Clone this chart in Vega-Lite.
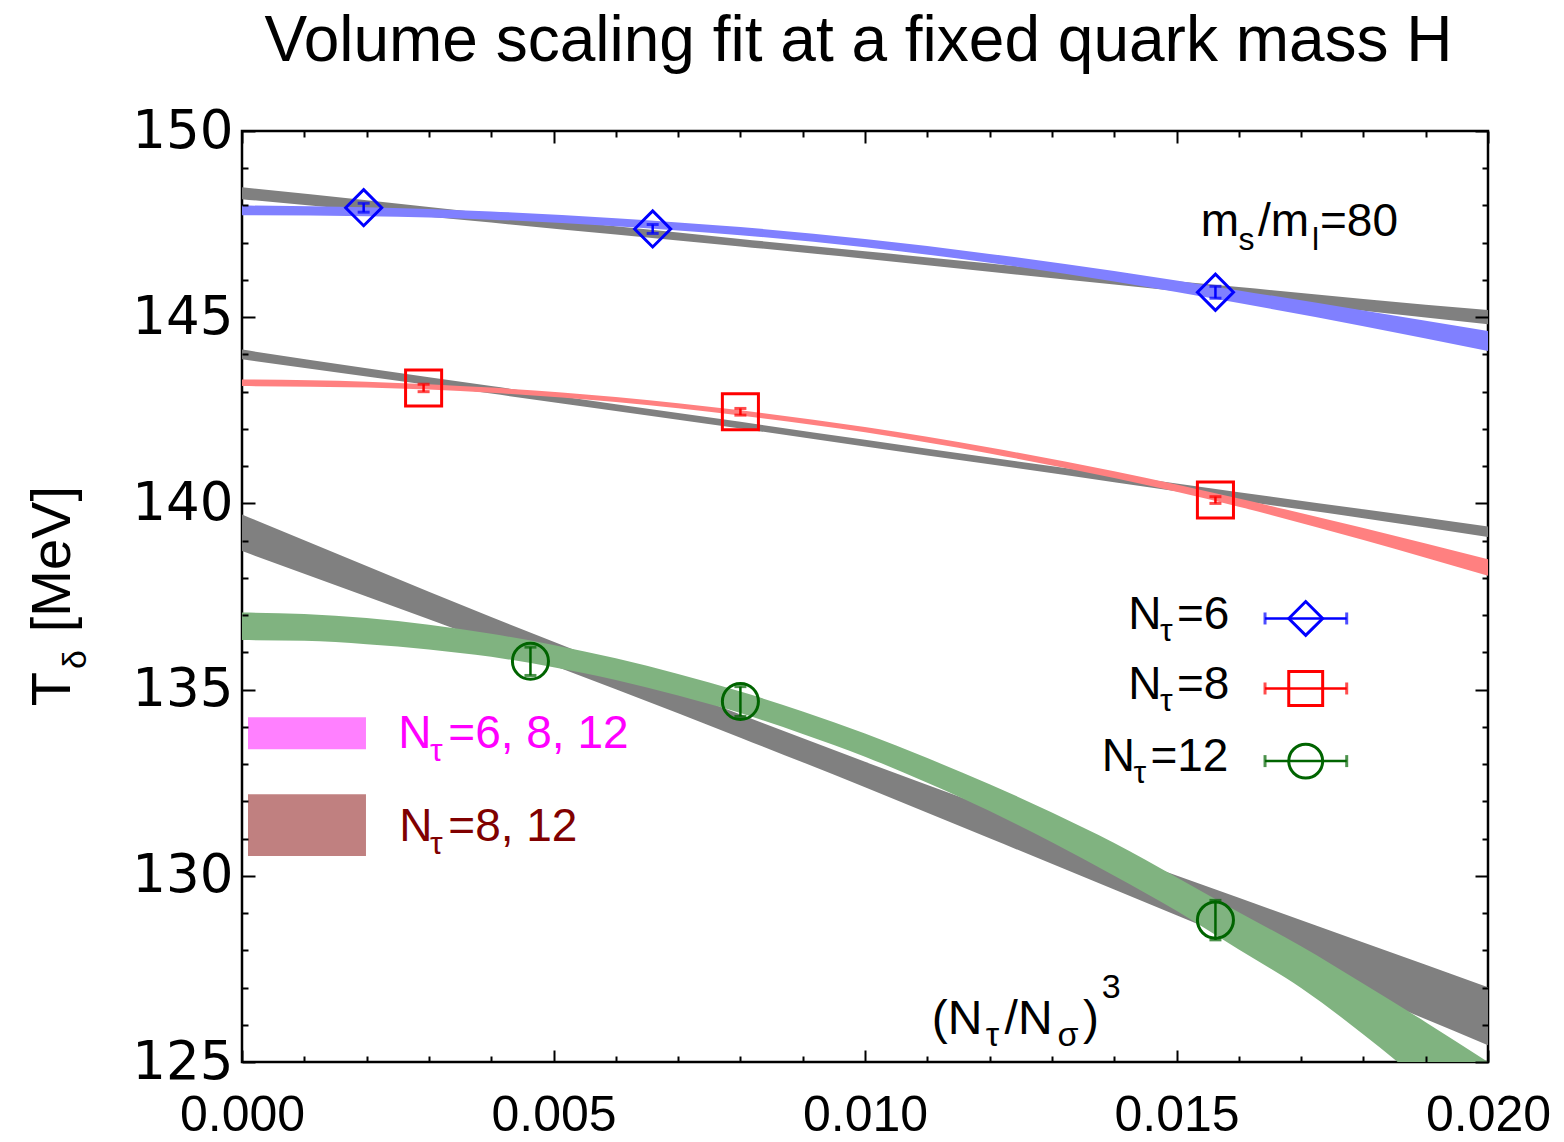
{
  "$schema": "https://vega.github.io/schema/vega-lite/v6.json",
  "width": 1246,
  "height": 931,
  "autosize": {"type": "none"},
  "padding": {"left": 242, "top": 131, "right": 76, "bottom": 80},
  "background": "white",
  "config": {"view": {"stroke": "black", "strokeWidth": 2.5}, "font": "Liberation Sans"},
  "datasets": {
    "bands": [
      {"band": "g6", "x": 0, "lo": 148.17, "hi": 148.49},
      {"band": "g6", "x": 0.002, "lo": 147.86, "hi": 148.14},
      {"band": "g6", "x": 0.004, "lo": 147.54, "hi": 147.78},
      {"band": "g6", "x": 0.006, "lo": 147.22, "hi": 147.44},
      {"band": "g6", "x": 0.008, "lo": 146.90, "hi": 147.10},
      {"band": "g6", "x": 0.010, "lo": 146.57, "hi": 146.77},
      {"band": "g6", "x": 0.012, "lo": 146.22, "hi": 146.44},
      {"band": "g6", "x": 0.014, "lo": 145.88, "hi": 146.12},
      {"band": "g6", "x": 0.016, "lo": 145.53, "hi": 145.81},
      {"band": "g6", "x": 0.018, "lo": 145.17, "hi": 145.49},
      {"band": "g6", "x": 0.020, "lo": 144.81, "hi": 145.19},
      {"band": "g8", "x": 0, "lo": 143.87, "hi": 144.13},
      {"band": "g8", "x": 0.002, "lo": 143.41, "hi": 143.63},
      {"band": "g8", "x": 0.004, "lo": 142.95, "hi": 143.15},
      {"band": "g8", "x": 0.006, "lo": 142.48, "hi": 142.66},
      {"band": "g8", "x": 0.008, "lo": 142.01, "hi": 142.19},
      {"band": "g8", "x": 0.010, "lo": 141.53, "hi": 141.71},
      {"band": "g8", "x": 0.012, "lo": 141.05, "hi": 141.23},
      {"band": "g8", "x": 0.014, "lo": 140.57, "hi": 140.77},
      {"band": "g8", "x": 0.016, "lo": 140.08, "hi": 140.30},
      {"band": "g8", "x": 0.018, "lo": 139.60, "hi": 139.84},
      {"band": "g8", "x": 0.020, "lo": 139.10, "hi": 139.38},
      {"band": "g12", "x": 0, "lo": 138.72, "hi": 139.70},
      {"band": "g12", "x": 0.002, "lo": 137.50, "hi": 138.32},
      {"band": "g12", "x": 0.004, "lo": 136.27, "hi": 136.95},
      {"band": "g12", "x": 0.006, "lo": 135.01, "hi": 135.63},
      {"band": "g12", "x": 0.008, "lo": 133.71, "hi": 134.33},
      {"band": "g12", "x": 0.010, "lo": 132.38, "hi": 133.06},
      {"band": "g12", "x": 0.012, "lo": 131.01, "hi": 131.83},
      {"band": "g12", "x": 0.014, "lo": 129.63, "hi": 130.61},
      {"band": "g12", "x": 0.016, "lo": 128.25, "hi": 129.41},
      {"band": "g12", "x": 0.018, "lo": 126.85, "hi": 128.21},
      {"band": "g12", "x": 0.020, "lo": 125.45, "hi": 127.01}
    ],
    "fits": [
      {"fit": "6", "x": 0, "lo": 147.74, "hi": 148.00},
      {"fit": "6", "x": 0.002, "lo": 147.71, "hi": 147.95},
      {"fit": "6", "x": 0.004, "lo": 147.62, "hi": 147.84},
      {"fit": "6", "x": 0.006, "lo": 147.44, "hi": 147.66},
      {"fit": "6", "x": 0.008, "lo": 147.20, "hi": 147.42},
      {"fit": "6", "x": 0.010, "lo": 146.88, "hi": 147.10},
      {"fit": "6", "x": 0.012, "lo": 146.46, "hi": 146.70},
      {"fit": "6", "x": 0.014, "lo": 145.96, "hi": 146.24},
      {"fit": "6", "x": 0.016, "lo": 145.38, "hi": 145.72},
      {"fit": "6", "x": 0.018, "lo": 144.76, "hi": 145.18},
      {"fit": "6", "x": 0.020, "lo": 144.09, "hi": 144.63},
      {"fit": "8", "x": 0, "lo": 143.15, "hi": 143.33},
      {"fit": "8", "x": 0.002, "lo": 143.11, "hi": 143.27},
      {"fit": "8", "x": 0.004, "lo": 142.97, "hi": 143.11},
      {"fit": "8", "x": 0.006, "lo": 142.72, "hi": 142.86},
      {"fit": "8", "x": 0.008, "lo": 142.36, "hi": 142.50},
      {"fit": "8", "x": 0.010, "lo": 141.91, "hi": 142.05},
      {"fit": "8", "x": 0.012, "lo": 141.34, "hi": 141.50},
      {"fit": "8", "x": 0.014, "lo": 140.68, "hi": 140.86},
      {"fit": "8", "x": 0.016, "lo": 139.91, "hi": 140.13},
      {"fit": "8", "x": 0.018, "lo": 139.02, "hi": 139.34},
      {"fit": "8", "x": 0.020, "lo": 138.06, "hi": 138.50},
      {"fit": "12", "x": 0, "lo": 136.33, "hi": 137.07},
      {"fit": "12", "x": 0.001, "lo": 136.31, "hi": 137.03},
      {"fit": "12", "x": 0.002, "lo": 136.22, "hi": 136.92},
      {"fit": "12", "x": 0.003, "lo": 136.08, "hi": 136.74},
      {"fit": "12", "x": 0.004, "lo": 135.88, "hi": 136.50},
      {"fit": "12", "x": 0.005, "lo": 135.60, "hi": 136.20},
      {"fit": "12", "x": 0.006, "lo": 135.26, "hi": 135.84},
      {"fit": "12", "x": 0.007, "lo": 134.84, "hi": 135.42},
      {"fit": "12", "x": 0.008, "lo": 134.37, "hi": 134.95},
      {"fit": "12", "x": 0.009, "lo": 133.81, "hi": 134.41},
      {"fit": "12", "x": 0.010, "lo": 133.20, "hi": 133.82},
      {"fit": "12", "x": 0.011, "lo": 132.50, "hi": 133.16},
      {"fit": "12", "x": 0.012, "lo": 131.74, "hi": 132.46},
      {"fit": "12", "x": 0.013, "lo": 130.90, "hi": 131.70},
      {"fit": "12", "x": 0.014, "lo": 130.00, "hi": 130.88},
      {"fit": "12", "x": 0.015, "lo": 129.06, "hi": 129.96},
      {"fit": "12", "x": 0.016, "lo": 128.02, "hi": 129.02},
      {"fit": "12", "x": 0.017, "lo": 126.99, "hi": 128.11},
      {"fit": "12", "x": 0.018, "lo": 125.74, "hi": 127.10},
      {"fit": "12", "x": 0.019, "lo": 124.37, "hi": 126.07},
      {"fit": "12", "x": 0.020, "lo": 122.90, "hi": 125.00}
    ],
    "points": [
      {"nt": "6", "x": 0.001953, "t": 147.94, "lo": 147.82, "hi": 148.06},
      {"nt": "6", "x": 0.006592, "t": 147.37, "lo": 147.25, "hi": 147.49},
      {"nt": "6", "x": 0.015625, "t": 145.67, "lo": 145.51, "hi": 145.83},
      {"nt": "8", "x": 0.002915, "t": 143.10, "lo": 143.00, "hi": 143.20},
      {"nt": "8", "x": 0.008, "t": 142.46, "lo": 142.37, "hi": 142.55},
      {"nt": "8", "x": 0.015625, "t": 140.09, "lo": 140.00, "hi": 140.18},
      {"nt": "12", "x": 0.00463, "t": 135.76, "lo": 135.38, "hi": 136.14},
      {"nt": "12", "x": 0.008, "t": 134.68, "lo": 134.28, "hi": 135.08},
      {"nt": "12", "x": 0.015625, "t": 128.81, "lo": 128.28, "hi": 129.34}
    ],
    "key": [
      {"nt": "6", "x": 0.017074, "x1": 0.016421, "x2": 0.017732, "y": 136.91},
      {"nt": "8", "x": 0.017074, "x1": 0.016421, "x2": 0.017732, "y": 135.03},
      {"nt": "12", "x": 0.017074, "x1": 0.016421, "x2": 0.017732, "y": 133.08}
    ],
    "combo": [
      {"c": "6, 8, 12", "x": 0.0000963, "x2": 0.00199, "lo": 133.40, "hi": 134.26},
      {"c": "8, 12", "x": 0.0000963, "x2": 0.00199, "lo": 130.53, "hi": 132.19}
    ],
    "texts": [
      {"role": "title", "t": "Volume scaling fit at a fixed quark mass H", "x": 0.009896, "y": 151.87},
      {"role": "lab", "t": "N", "x": 0.014226, "y": 136.62},
      {"role": "labsub", "t": "τ", "x": 0.014735, "y": 136.30},
      {"role": "lab", "t": "=6", "x": 0.015008, "y": 136.62},
      {"role": "lab", "t": "N", "x": 0.014226, "y": 134.74},
      {"role": "labsub", "t": "τ", "x": 0.014735, "y": 134.42},
      {"role": "lab", "t": "=8", "x": 0.015008, "y": 134.74},
      {"role": "lab", "t": "N", "x": 0.013799, "y": 132.81},
      {"role": "labsub", "t": "τ", "x": 0.014308, "y": 132.49},
      {"role": "lab", "t": "=12", "x": 0.014581, "y": 132.81},
      {"role": "lab", "t": "m", "x": 0.015390, "y": 147.19},
      {"role": "labsub", "t": "s", "x": 0.015995, "y": 146.80},
      {"role": "lab", "t": "/m", "x": 0.016308, "y": 147.19},
      {"role": "labsub", "t": "l", "x": 0.017175, "y": 146.80},
      {"role": "lab", "t": "=80", "x": 0.017303, "y": 147.19},
      {"role": "big", "t": "(N", "x": 0.011072, "y": 125.74},
      {"role": "bigsub", "t": "τ", "x": 0.011940, "y": 125.42},
      {"role": "big", "t": "/N", "x": 0.012240, "y": 125.74},
      {"role": "bigsub", "t": "σ", "x": 0.013090, "y": 125.42},
      {"role": "big", "t": ")", "x": 0.013500, "y": 125.74},
      {"role": "bigsub", "t": "3", "x": 0.013800, "y": 126.73},
      {"role": "c1", "t": "N", "x": 0.002509, "y": 133.44},
      {"role": "c1sub", "t": "τ", "x": 0.003018, "y": 133.08},
      {"role": "c1", "t": "=6, 8, 12", "x": 0.003311, "y": 133.44},
      {"role": "c2", "t": "N", "x": 0.002525, "y": 130.93},
      {"role": "c2sub", "t": "τ", "x": 0.003018, "y": 130.58},
      {"role": "c2", "t": "=8, 12", "x": 0.003311, "y": 130.93},
      {"role": "yt", "t": "T", "x": -0.002761, "y": 134.55},
      {"role": "ytsub", "t": "δ", "x": -0.0025, "y": 135.55},
      {"role": "yt", "t": "[MeV]", "x": -0.002761, "y": 136.54}
    ]
  },
  "resolve": {"axis": {"x": "independent", "y": "independent"}, "scale": {"color": "independent", "stroke": "independent"}},
  "layer": [
    {
      "data": {"name": "bands"},
      "mark": {"type": "area", "color": "#808080", "interpolate": "monotone", "clip": true, "opacity": 1},
      "encoding": {
        "detail": {"field": "band"},
        "x": {"field": "x", "type": "quantitative", "scale": {"domain": [0, 0.02], "nice": false, "zero": false},
          "axis": {"orient": "bottom", "values": [0, 0.005, 0.01, 0.015, 0.02], "format": ".3f", "tickSize": -12, "tickWidth": 2, "tickColor": "black", "domain": false, "grid": false, "labelFontSize": 50, "labelFont": "Liberation Sans", "labelColor": "black", "labelPadding": 80, "labelBaseline": "alphabetic", "labelFlush": false, "labelOverlap": false, "labelBound": false, "title": null, "zindex": 2}},
        "y": {"field": "lo", "type": "quantitative", "scale": {"domain": [125, 150], "nice": false, "zero": false},
          "axis": {"orient": "left", "values": [125, 130, 135, 140, 145, 150], "format": "d", "tickSize": -13, "tickWidth": 2, "tickColor": "black", "domain": false, "grid": false, "labelFontSize": 53, "labelFont": "DejaVu Sans", "labelColor": "black", "labelPadding": 22, "labelFlush": false, "labelOverlap": false, "labelBound": false, "title": null, "zindex": 2}},
        "y2": {"field": "hi"}
      }
    },
    {
      "data": {"name": "fits"},
      "mark": {"type": "area", "interpolate": "monotone", "clip": true, "opacity": 1},
      "encoding": {
        "color": {"field": "fit", "type": "nominal", "scale": {"domain": ["6", "8", "12"], "range": ["#8080ff", "#ff8080", "#80b380"]}, "legend": null},
        "x": {"field": "x", "type": "quantitative",
          "axis": {"orient": "top", "values": [0, 0.005, 0.01, 0.015, 0.02], "tickSize": -12, "tickWidth": 2, "tickColor": "black", "domain": false, "grid": false, "labels": false, "title": null, "zindex": 2}},
        "y": {"field": "lo", "type": "quantitative",
          "axis": {"orient": "right", "values": [125, 130, 135, 140, 145, 150], "tickSize": -13, "tickWidth": 2, "tickColor": "black", "domain": false, "grid": false, "labels": false, "title": null, "zindex": 2}},
        "y2": {"field": "hi"}
      }
    },
    {
      "data": {"name": "combo"},
      "mark": {"type": "rect"},
      "encoding": {
        "color": {"field": "c", "type": "nominal", "scale": {"domain": ["6, 8, 12", "8, 12"], "range": ["#ff80ff", "#c08080"]}, "legend": null},
        "x": {"field": "x", "type": "quantitative",
          "axis": {"orient": "bottom", "values": [0.001, 0.002, 0.003, 0.004, 0.006, 0.007, 0.008, 0.009, 0.011, 0.012, 0.013, 0.014, 0.016, 0.017, 0.018, 0.019], "tickSize": -6, "tickWidth": 2, "tickColor": "black", "domain": false, "grid": false, "labels": false, "title": null, "zindex": 2}},
        "x2": {"field": "x2"},
        "y": {"field": "lo", "type": "quantitative",
          "axis": {"orient": "left", "values": [126, 127, 128, 129, 131, 132, 133, 134, 136, 137, 138, 139, 141, 142, 143, 144, 146, 147, 148, 149], "tickSize": -6, "tickWidth": 2, "tickColor": "black", "domain": false, "grid": false, "labels": false, "title": null, "zindex": 2}},
        "y2": {"field": "hi"}
      }
    },
    {
      "data": {"name": "points"},
      "mark": {"type": "rule", "strokeWidth": 2.5},
      "encoding": {
        "color": {"field": "nt", "type": "nominal", "scale": {"domain": ["6", "8", "12"], "range": ["#0000ff", "#ff0000", "#006400"]}, "legend": null},
        "x": {"field": "x", "type": "quantitative",
          "axis": {"orient": "top", "values": [0.001, 0.002, 0.003, 0.004, 0.006, 0.007, 0.008, 0.009, 0.011, 0.012, 0.013, 0.014, 0.016, 0.017, 0.018, 0.019], "tickSize": -6, "tickWidth": 2, "tickColor": "black", "domain": false, "grid": false, "labels": false, "title": null, "zindex": 2}},
        "y": {"field": "lo", "type": "quantitative",
          "axis": {"orient": "right", "values": [126, 127, 128, 129, 131, 132, 133, 134, 136, 137, 138, 139, 141, 142, 143, 144, 146, 147, 148, 149], "tickSize": -6, "tickWidth": 2, "tickColor": "black", "domain": false, "grid": false, "labels": false, "title": null, "zindex": 2}},
        "y2": {"field": "hi"}
      }
    },
    {
      "data": {"name": "points"},
      "mark": {"type": "tick", "orient": "horizontal", "size": 12, "thickness": 3},
      "encoding": {
        "color": {"field": "nt", "type": "nominal", "scale": {"domain": ["6", "8", "12"], "range": ["#0000ff", "#ff0000", "#006400"]}, "legend": null},
        "x": {"field": "x", "type": "quantitative", "axis": null},
        "y": {"field": "lo", "type": "quantitative", "axis": null}
      }
    },
    {
      "data": {"name": "points"},
      "mark": {"type": "tick", "orient": "horizontal", "size": 12, "thickness": 3},
      "encoding": {
        "color": {"field": "nt", "type": "nominal", "scale": {"domain": ["6", "8", "12"], "range": ["#0000ff", "#ff0000", "#006400"]}, "legend": null},
        "x": {"field": "x", "type": "quantitative", "axis": null},
        "y": {"field": "hi", "type": "quantitative", "axis": null}
      }
    },
    {
      "data": {"name": "points"},
      "mark": {"type": "point", "filled": false, "strokeWidth": 3, "size": 1300, "opacity": 1},
      "encoding": {
        "color": {"field": "nt", "type": "nominal", "scale": {"domain": ["6", "8", "12"], "range": ["#0000ff", "#ff0000", "#006400"]}, "legend": null},
        "shape": {"field": "nt", "type": "nominal", "scale": {"domain": ["6", "8", "12"], "range": ["diamond", "square", "circle"]}, "legend": null},
        "x": {"field": "x", "type": "quantitative", "axis": null},
        "y": {"field": "t", "type": "quantitative", "axis": null}
      }
    },
    {
      "data": {"name": "key"},
      "mark": {"type": "rule", "strokeWidth": 2.5},
      "encoding": {
        "color": {"field": "nt", "type": "nominal", "scale": {"domain": ["6", "8", "12"], "range": ["#0000ff", "#ff0000", "#006400"]}, "legend": null},
        "x": {"field": "x1", "type": "quantitative", "axis": null},
        "x2": {"field": "x2"},
        "y": {"field": "y", "type": "quantitative", "axis": null}
      }
    },
    {
      "data": {"name": "key"},
      "mark": {"type": "tick", "orient": "vertical", "size": 12, "thickness": 3},
      "encoding": {
        "color": {"field": "nt", "type": "nominal", "scale": {"domain": ["6", "8", "12"], "range": ["#0000ff", "#ff0000", "#006400"]}, "legend": null},
        "x": {"field": "x1", "type": "quantitative", "axis": null},
        "y": {"field": "y", "type": "quantitative", "axis": null}
      }
    },
    {
      "data": {"name": "key"},
      "mark": {"type": "tick", "orient": "vertical", "size": 12, "thickness": 3},
      "encoding": {
        "color": {"field": "nt", "type": "nominal", "scale": {"domain": ["6", "8", "12"], "range": ["#0000ff", "#ff0000", "#006400"]}, "legend": null},
        "x": {"field": "x2", "type": "quantitative", "axis": null},
        "y": {"field": "y", "type": "quantitative", "axis": null}
      }
    },
    {
      "data": {"name": "key"},
      "mark": {"type": "point", "filled": false, "strokeWidth": 3, "size": 1150, "opacity": 1},
      "encoding": {
        "color": {"field": "nt", "type": "nominal", "scale": {"domain": ["6", "8", "12"], "range": ["#0000ff", "#ff0000", "#006400"]}, "legend": null},
        "shape": {"field": "nt", "type": "nominal", "legend": null},
        "x": {"field": "x", "type": "quantitative", "axis": null},
        "y": {"field": "y", "type": "quantitative", "axis": null}
      }
    },
    {
      "data": {"name": "texts"},
      "transform": [{"filter": "datum.role === 'title'"}],
      "mark": {"type": "text", "align": "center", "baseline": "alphabetic", "fontSize": 64, "font": "Liberation Sans", "color": "black"},
      "encoding": {
        "x": {"field": "x", "type": "quantitative", "axis": null},
        "y": {"field": "y", "type": "quantitative", "axis": null},
        "text": {"field": "t"}
      }
    },
    {
      "data": {"name": "texts"},
      "transform": [{"filter": "datum.role === 'lab'"}],
      "mark": {"type": "text", "align": "left", "baseline": "alphabetic", "fontSize": 46, "font": "Liberation Sans", "color": "black"},
      "encoding": {
        "x": {"field": "x", "type": "quantitative", "axis": null},
        "y": {"field": "y", "type": "quantitative", "axis": null},
        "text": {"field": "t"}
      }
    },
    {
      "data": {"name": "texts"},
      "transform": [{"filter": "datum.role === 'labsub'"}],
      "mark": {"type": "text", "align": "left", "baseline": "alphabetic", "fontSize": 32, "font": "Liberation Sans", "color": "black"},
      "encoding": {
        "x": {"field": "x", "type": "quantitative", "axis": null},
        "y": {"field": "y", "type": "quantitative", "axis": null},
        "text": {"field": "t"}
      }
    },
    {
      "data": {"name": "texts"},
      "transform": [{"filter": "datum.role === 'big'"}],
      "mark": {"type": "text", "align": "left", "baseline": "alphabetic", "fontSize": 48, "font": "Liberation Sans", "color": "black"},
      "encoding": {
        "x": {"field": "x", "type": "quantitative", "axis": null},
        "y": {"field": "y", "type": "quantitative", "axis": null},
        "text": {"field": "t"}
      }
    },
    {
      "data": {"name": "texts"},
      "transform": [{"filter": "datum.role === 'bigsub'"}],
      "mark": {"type": "text", "align": "left", "baseline": "alphabetic", "fontSize": 34, "font": "Liberation Sans", "color": "black"},
      "encoding": {
        "x": {"field": "x", "type": "quantitative", "axis": null},
        "y": {"field": "y", "type": "quantitative", "axis": null},
        "text": {"field": "t"}
      }
    },
    {
      "data": {"name": "texts"},
      "transform": [{"filter": "datum.role === 'c1'"}],
      "mark": {"type": "text", "align": "left", "baseline": "alphabetic", "fontSize": 46, "font": "Liberation Sans", "color": "#ff00ff"},
      "encoding": {
        "x": {"field": "x", "type": "quantitative", "axis": null},
        "y": {"field": "y", "type": "quantitative", "axis": null},
        "text": {"field": "t"}
      }
    },
    {
      "data": {"name": "texts"},
      "transform": [{"filter": "datum.role === 'c1sub'"}],
      "mark": {"type": "text", "align": "left", "baseline": "alphabetic", "fontSize": 32, "font": "Liberation Sans", "color": "#ff00ff"},
      "encoding": {
        "x": {"field": "x", "type": "quantitative", "axis": null},
        "y": {"field": "y", "type": "quantitative", "axis": null},
        "text": {"field": "t"}
      }
    },
    {
      "data": {"name": "texts"},
      "transform": [{"filter": "datum.role === 'c2'"}],
      "mark": {"type": "text", "align": "left", "baseline": "alphabetic", "fontSize": 46, "font": "Liberation Sans", "color": "#800000"},
      "encoding": {
        "x": {"field": "x", "type": "quantitative", "axis": null},
        "y": {"field": "y", "type": "quantitative", "axis": null},
        "text": {"field": "t"}
      }
    },
    {
      "data": {"name": "texts"},
      "transform": [{"filter": "datum.role === 'c2sub'"}],
      "mark": {"type": "text", "align": "left", "baseline": "alphabetic", "fontSize": 32, "font": "Liberation Sans", "color": "#800000"},
      "encoding": {
        "x": {"field": "x", "type": "quantitative", "axis": null},
        "y": {"field": "y", "type": "quantitative", "axis": null},
        "text": {"field": "t"}
      }
    },
    {
      "data": {"name": "texts"},
      "transform": [{"filter": "datum.role === 'yt'"}],
      "mark": {"type": "text", "align": "left", "baseline": "alphabetic", "angle": 270, "fontSize": 56, "font": "Liberation Sans", "color": "black"},
      "encoding": {
        "x": {"field": "x", "type": "quantitative", "axis": null},
        "y": {"field": "y", "type": "quantitative", "axis": null},
        "text": {"field": "t"}
      }
    },
    {
      "data": {"name": "texts"},
      "transform": [{"filter": "datum.role === 'ytsub'"}],
      "mark": {"type": "text", "align": "left", "baseline": "alphabetic", "angle": 270, "fontSize": 34, "font": "Liberation Sans", "color": "black"},
      "encoding": {
        "x": {"field": "x", "type": "quantitative", "axis": null},
        "y": {"field": "y", "type": "quantitative", "axis": null},
        "text": {"field": "t"}
      }
    }
  ]
}
